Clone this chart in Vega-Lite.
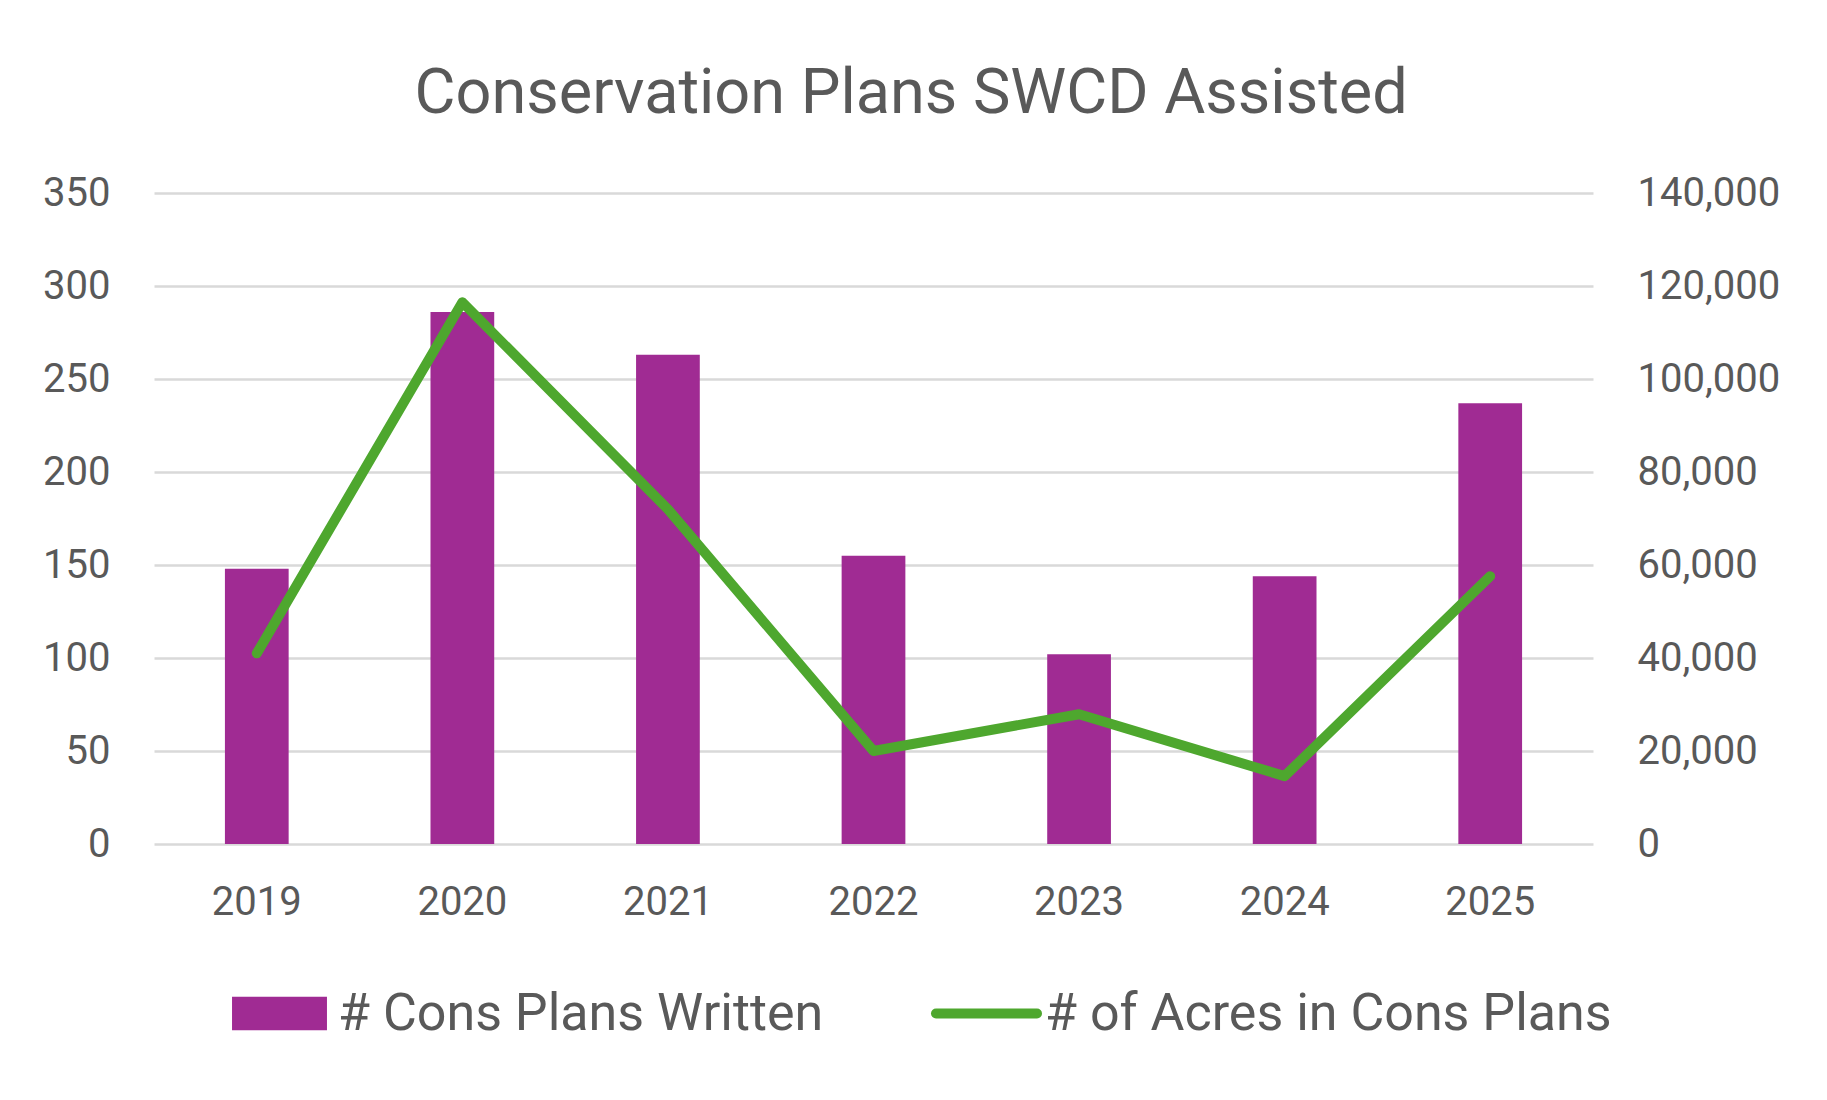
{
  "$schema": "https://vega.github.io/schema/vega-lite/v6.json",
  "width": 1439,
  "height": 651,
  "autosize": {"type": "none"},
  "padding": {"left": 154, "top": 193, "right": 234, "bottom": 256},
  "background": "white",
  "title": {
    "text": "Conservation Plans SWCD Assisted",
    "fontSize": 63,
    "font": "Roboto",
    "fontWeight": "normal",
    "color": "#595959",
    "anchor": "middle",
    "frame": "bounds",
    "offset": 47
  },
  "config": {
    "view": {"stroke": null},
    "legend": {
      "orient": "none",
      "direction": "horizontal",
      "labelFontSize": 52,
      "labelFont": "Roboto",
      "labelColor": "#595959",
      "labelOffset": 3,
      "padding": 0,
      "labelLimit": 1000
    }
  },
  "data": {
    "values": [
      {"year": "2019", "plans": 148, "acres": 41000},
      {"year": "2020", "plans": 286, "acres": 116500},
      {"year": "2021", "plans": 263, "acres": 72000},
      {"year": "2022", "plans": 155, "acres": 20000},
      {"year": "2023", "plans": 102, "acres": 27900},
      {"year": "2024", "plans": 144, "acres": 14600},
      {"year": "2025", "plans": 237, "acres": 57600}
    ]
  },
  "encoding": {
    "x": {
      "field": "year",
      "type": "ordinal",
      "scale": {"paddingInner": 0.69, "paddingOuter": 0.345},
      "axis": {
        "title": null,
        "labelAngle": 0,
        "domain": false,
        "ticks": false,
        "labelFontSize": 40,
        "labelFont": "Roboto",
        "labelColor": "#595959",
        "labelPadding": 38
      }
    }
  },
  "layer": [
    {
      "mark": {"type": "bar"},
      "encoding": {
        "y": {
          "field": "plans",
          "type": "quantitative",
          "scale": {"domain": [0, 350], "nice": false},
          "axis": {
            "orient": "left",
            "title": null,
            "values": [0, 50, 100, 150, 200, 250, 300, 350],
            "grid": true,
            "gridColor": "#D9D9D9",
            "gridWidth": 2.5,
            "domain": false,
            "ticks": false,
            "labelFontSize": 40,
            "labelFont": "Roboto",
            "labelColor": "#595959",
            "labelPadding": 44
          }
        },
        "fill": {
          "datum": "# Cons Plans Written",
          "scale": {"range": ["#A02B93"]},
          "legend": {
            "title": null,
            "legendX": 70,
            "legendY": 765,
            "symbolType": "M-0.94,-0.33H0.94V0.33H-0.94Z",
            "symbolSize": 10201,
            "symbolStrokeWidth": 10,
            "symbolStrokeColor": "transparent"
          }
        }
      }
    },
    {
      "mark": {"type": "line", "strokeWidth": 10, "strokeCap": "round", "strokeJoin": "round"},
      "encoding": {
        "y": {
          "field": "acres",
          "type": "quantitative",
          "scale": {"domain": [0, 140000], "nice": false},
          "axis": {
            "orient": "right",
            "title": null,
            "values": [0, 20000, 40000, 60000, 80000, 100000, 120000, 140000],
            "format": ",.0f",
            "grid": false,
            "domain": false,
            "ticks": false,
            "labelFontSize": 40,
            "labelFont": "Roboto",
            "labelColor": "#595959",
            "labelPadding": 44
          }
        },
        "stroke": {
          "datum": "# of Acres in Cons Plans",
          "scale": {"range": ["#4EA72E"]},
          "legend": {
            "title": null,
            "legendX": 777,
            "legendY": 765,
            "symbolType": "stroke",
            "symbolSize": 10201,
            "symbolStrokeWidth": 10,
            "encode": {"symbols": {"update": {"strokeCap": {"value": "round"}}}}
          }
        }
      }
    }
  ],
  "resolve": {"scale": {"y": "independent"}}
}
